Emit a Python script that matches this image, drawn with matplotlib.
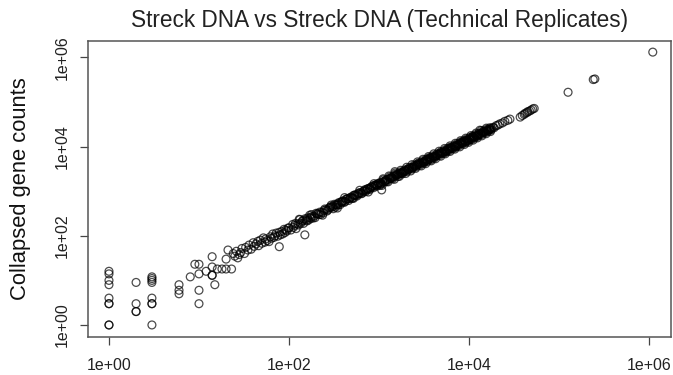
import matplotlib
matplotlib.use("Agg")
import matplotlib.pyplot as plt
from matplotlib.ticker import FixedLocator, NullLocator

plt.rcParams['font.family'] = ['Liberation Sans', 'DejaVu Sans']

title = "Streck DNA vs Streck DNA (Technical Replicates)"
ylabel = "Collapsed gene counts"
tick_values = [1, 1e2, 1e4, 1e6]
tick_labels = ["1e+00", "1e+02", "1e+04", "1e+06"]

# Replicate 1 (x) and replicate 2 (y) collapsed gene counts
low_x = [1, 1, 1, 1, 1, 1, 1, 1, 1,
         2, 2, 2, 2,
         3, 3, 3, 3, 3, 3, 3, 3,
         6, 6, 6,
         8, 9, 10, 10, 10, 10,
         12, 14, 14, 14, 14, 15, 16, 18, 20, 23, 20, 21, 24, 25, 26, 27, 28, 29]
low_y = [16, 14, 10, 8, 4, 3, 3, 1, 1,
         9, 3, 2, 2,
         12, 11, 10, 9, 4, 3, 3, 1,
         8, 6, 5,
         12, 23, 23, 14, 6, 3,
         16, 34, 20, 13, 13, 8, 18, 18, 18, 18, 30, 48, 40, 35, 45, 32, 38, 42]

mid_x = [30, 32, 33, 35, 36, 38, 40, 41, 43, 45, 46, 48, 50, 52, 54, 55, 57, 60,
         62, 64, 66, 68, 70, 72, 75, 78, 78, 80, 83, 85, 88, 90, 92, 95, 98,
         100, 105, 110, 112, 118, 120, 125, 130, 135, 140, 145, 150, 150, 155, 160,
         165, 170, 175, 180, 190, 195, 200, 210, 215, 220, 230, 240, 250, 260, 270,
         280, 290, 300, 310, 320, 330, 340, 350, 360, 380, 390, 400, 420, 440, 450,
         470, 480, 500, 520, 540, 560, 580, 600, 620, 650, 680, 700, 720, 750, 780,
         800, 830, 860, 900, 930, 960,
         115, 128, 142, 158, 172, 185, 205, 225, 245, 265, 285,
         310, 330, 350, 370, 390, 410, 430, 460, 490, 510, 540, 570, 600, 640, 670,
         710, 740, 790, 820, 870, 910, 950, 980,
         132, 178, 236, 295, 345, 415, 520, 610, 760, 880]
mid_y = [52, 40, 55, 48, 62, 50, 70, 58, 66, 75, 60, 80, 68, 90, 72, 85, 78, 74,
         95, 88, 110, 92, 100, 115, 98, 57, 120, 105, 125, 110, 140, 118, 135, 128, 150,
         150, 135, 180, 155, 190, 145, 185, 235, 190, 210, 190, 240, 105, 225, 250,
         225, 290, 245, 270, 275, 255, 320, 315, 300, 340, 335, 325, 400, 390, 380,
         420, 450, 435, 405, 510, 495, 495, 490, 560, 570, 565, 600, 590, 680, 675,
         680, 720, 700, 805, 810, 810, 870, 870, 930, 910, 1020, 1085, 1045, 1125, 1170,
         1160, 1245, 1330, 1305, 1395, 1390,
         170, 175, 220, 215, 260, 250, 310, 300, 370, 360, 430,
         460, 440, 530, 500, 600, 560, 660, 620, 740, 700, 830, 780, 920, 880, 1000,
         980, 1130, 1090, 1250, 1200, 1380, 1300, 1500,
         230, 300, 290, 490, 420, 720, 690, 1050, 960, 1480]

band_x = [1000, 1030, 1060, 1070, 1100, 1150, 1180, 1200, 1250, 1300, 1330, 1380, 1400,
          1450, 1500, 1500, 1550, 1600, 1650, 1700, 1750, 1800, 1850, 1900, 1950, 2000,
          2100, 2150, 2200, 2300, 2350, 2400, 2500, 2600, 2650, 2700, 2800, 2900, 3000,
          3100, 3200, 3300, 3400, 3500, 3600, 3700, 3800, 3900, 4000, 4200, 4300, 4500,
          4600, 4800, 5000, 5100, 5300, 5500, 5700, 5900, 6100, 6300, 6500, 6800, 7000,
          7200, 7500, 7800, 8000, 8300, 8600, 9000, 9300, 9600, 10000, 10400, 10800,
          11200, 11600, 12000, 12500, 13000, 13200, 13500, 14000, 14500, 15000, 15500,
          16000, 16600, 17200, 17800,
          1020, 1120, 1220, 1320, 1420, 1520, 1620, 1720, 1820, 1920, 2050, 2180, 2320,
          2450, 2580, 2750, 2850, 3050, 3150, 3350, 3450, 3650, 3750, 3950, 4100, 4400,
          4700, 4900, 5200, 5400, 5600, 5800, 6000, 6200, 6600, 6900, 7100, 7400, 7700,
          8100, 8500, 8800, 9100, 9500, 9800, 10200, 10600, 11000, 11400, 11800, 12200,
          12800, 13800, 14300, 15200, 15800, 16300, 17000, 17500,
          1080, 1260, 1480, 1680, 1980, 2250, 2550, 2950, 3300, 3800, 4250, 4850, 5450,
          6150, 6950, 7900, 8900, 9900, 11100, 12400, 13900, 15500, 17300,
          1110, 1290, 1510, 1740, 2030, 2330, 2680, 3080, 3550, 4050, 4650, 5350, 6150,
          7050, 8050, 9200, 10500, 12000, 13700, 15600,
          1040, 1170, 1360, 1560, 1780, 2070, 2370, 2720, 3120, 3580, 4150, 4750, 5450,
          6250, 7250, 8350, 9600, 11000, 12700, 14600, 16900]
band_y = [1480, 1560, 1450, 1070, 1620, 1680, 1720, 1780, 1840, 1900, 1950, 2050, 2010,
          2130, 2750, 2200, 2250, 2350, 2400, 2480, 2560, 2620, 2720, 2760, 2850, 2920,
          3080, 3120, 3220, 3350, 3450, 3500, 3650, 3780, 3880, 3950, 4080, 4250, 4380,
          4500, 4680, 4800, 4980, 5100, 5250, 5400, 5520, 5700, 5850, 6100, 6300, 6550,
          6750, 7000, 7300, 7450, 7700, 8050, 8300, 8600, 8900, 9200, 9500, 9900, 10200,
          10500, 10900, 11400, 11700, 12100, 12500, 13100, 13600, 14000, 14600, 15100, 15800,
          16300, 16900, 17500, 18200, 18900, 23400, 19700, 20400, 21100, 21800, 22600,
          23300, 24100, 25000, 25900,
          1350, 1800, 1650, 2100, 1900, 2400, 2150, 2700, 2450, 3000, 2750, 3400, 3150,
          3850, 3500, 4300, 3850, 4800, 4250, 5250, 4650, 5700, 5050, 6200, 5550, 6900,
          6350, 7700, 7050, 8450, 7600, 9100, 8150, 9700, 8950, 10800, 9650, 11600, 10450,
          12700, 11550, 13800, 12350, 14900, 13300, 16000, 14400, 17200, 15500, 18500, 16600,
          20000, 18700, 22300, 20600, 24600, 22100, 26500, 23700,
          1350, 1620, 1850, 2150, 2500, 2850, 3250, 3700, 4150, 4800, 5350, 6100, 6900,
          7800, 8800, 9900, 11200, 12500, 14000, 15700, 17500, 19500, 21800,
          1900, 2200, 2560, 2950, 3450, 3950, 4550, 5200, 6000, 6900, 7900, 9100, 10400,
          11900, 13600, 15500, 17700, 20200, 23000, 26000,
          1460, 1620, 1920, 2350, 2500, 3150, 3330, 4150, 4400, 5450, 5850, 7250, 7650,
          9500, 10200, 12700, 13500, 16700, 17900, 22200, 23800]

high_x = [18500, 19000, 20000, 21000, 22000, 23500, 25000, 27000, 28500,
          37000, 39000, 41000, 42000, 44000, 45000, 47000, 49000, 51000, 53000,
          126000, 240000, 250000, 1100000]
high_y = [27000, 26500, 29500, 30500, 32500, 34000, 37000, 39000, 41500,
          46000, 50000, 53000, 56000, 58000, 61000, 63000, 66000, 70000, 72000,
          166000, 320000, 330000, 1320000]

x = low_x + mid_x + band_x + high_x
y = low_y + mid_y + band_y + high_y

fig = plt.figure(figsize=(6.73, 3.75), dpi=100)
ax = fig.add_axes([88/673, 38/375, 583/673, 296/375])
ax.scatter(x, y, s=32, facecolors='none', edgecolors='black', linewidths=0.9, alpha=0.7)
ax.set_xscale('log')
ax.set_yscale('log')
ax.set_xlim(10**-0.233, 10**6.244)
ax.set_ylim(10**-0.27, 10**6.37)

for a in (ax.xaxis, ax.yaxis):
    a.set_major_locator(FixedLocator(tick_values))
    a.set_minor_locator(NullLocator())
ax.set_xticklabels(tick_labels)
ax.set_yticklabels(tick_labels)
ax.tick_params(axis='both', direction='out', length=6, width=0.9, color='#444444',
               labelsize=11.5, labelcolor='#222222')
ax.tick_params(axis='x', pad=9)
ax.tick_params(axis='y', pad=7)
for lbl in ax.get_yticklabels():
    lbl.set_rotation(90)
    lbl.set_va('center')
    lbl.set_ha('right')
for s in ax.spines.values():
    s.set_color('#555555')
    s.set_linewidth(1.1)

ax.set_title(title, fontsize=16.3, color='#222222', pad=10)
ax.set_ylabel(ylabel, fontsize=15.8, color='#111111')
ax.yaxis.set_label_coords(-0.098, 0.5)

fig.savefig("out.png", dpi=100)
